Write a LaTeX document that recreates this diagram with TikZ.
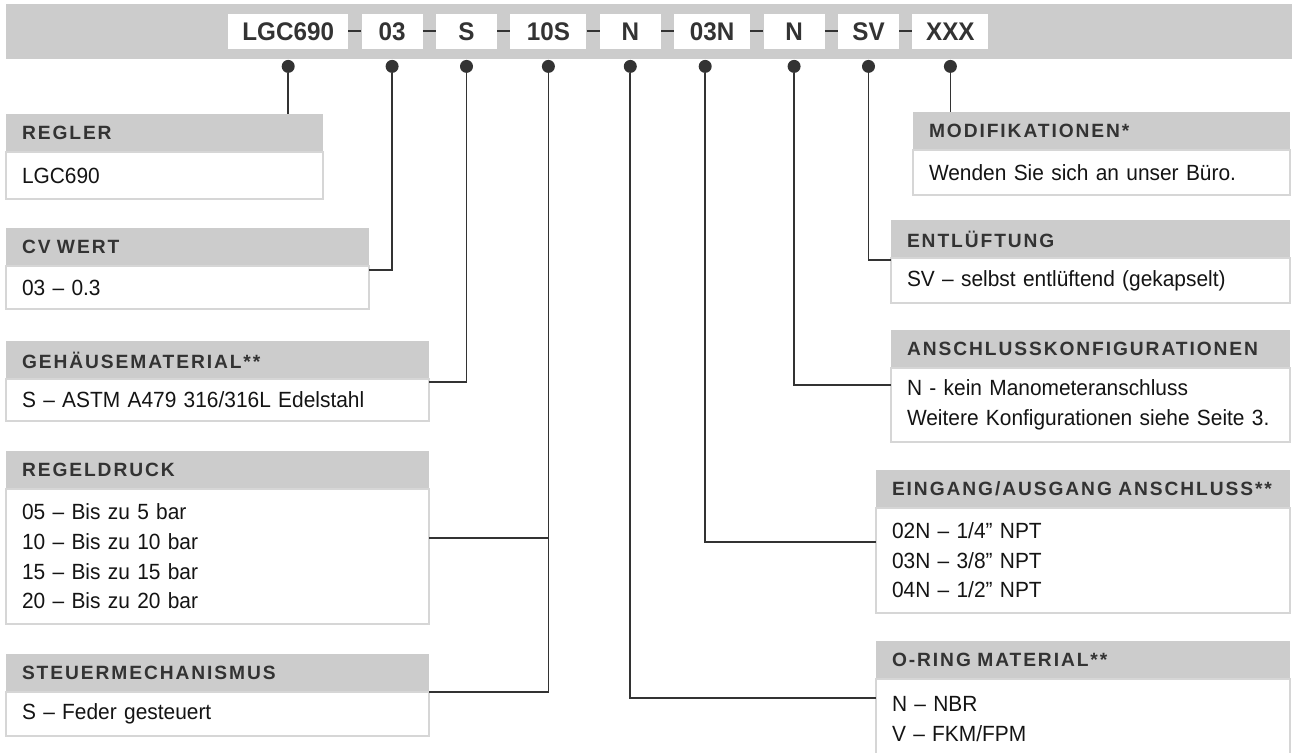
\documentclass[tikz,border=0pt]{standalone}
\usepackage{fontspec}
\setmainfont{Liberation Sans}[FakeStretch=0.95]
\newfontfamily\headfont[LetterSpace=10]{Liberation Sans}
\usetikzlibrary{positioning}

\definecolor{bargray}{HTML}{CCCCCC}
\definecolor{inkgray}{HTML}{333333}
\definecolor{rimgray}{HTML}{D6D6D6}

\begin{document}
\begin{tikzpicture}[
        x=1pt, y=-1pt,
        node distance=0pt,
        code/.style={
            rectangle,
            fill=white,
            text=inkgray,
            font=\fontsize{25.5}{30}\selectfont\bfseries,
            minimum height=35pt,
            inner sep=0pt
        },
        head/.style={
            rectangle,
            fill=bargray,
            text=inkgray,
            font=\headfont\fontsize{19.2}{22}\selectfont\bfseries,
            minimum height=38pt,
            inner xsep=16pt,
            inner ysep=0pt,
            outer sep=0pt,
            align=left,
            anchor=north west
        },
        body/.style={
            rectangle,
            draw=rimgray,
            line width=1.3pt,
            fill=white,
            text=black!92,
            font=\fontsize{22}{29.6}\selectfont,
            inner xsep=16pt,
            inner ysep=0pt,
            outer sep=0pt,
            align=left
        },
        dot/.style={
            circle,
            fill=inkgray,
            inner sep=0pt,
            minimum size=13pt
        },
        link/.style={
            draw=inkgray,
            line width=1.7pt
        },
        joiner/.style={
            draw=inkgray,
            line width=2pt
        }
    ]
        \useasboundingbox (0,0) rectangle (1292,752);

        % Code strip
        \fill [bargray] (6,4) rectangle (1292,59);
        \node [code, minimum width=120pt, anchor=west] (cLGC) at (228,31.5) {LGC690};
        \node [code, minimum width=61pt, right=13pt of cLGC] (cCv) {03};
        \node [code, minimum width=61pt, right=13pt of cCv] (cBody) {S};
        \node [code, minimum width=76pt, right=13pt of cBody] (cPress) {10S};
        \node [code, minimum width=61pt, right=13pt of cPress] (cRing) {N};
        \node [code, minimum width=76pt, right=13pt of cRing] (cPort) {03N};
        \node [code, minimum width=61pt, right=13pt of cPort] (cGauge) {N};
        \node [code, minimum width=61pt, right=13pt of cGauge] (cVent) {SV};
        \node [code, minimum width=76pt, right=13pt of cVent] (cMod) {XXX};

        \path [joiner] (cLGC) -- (cCv);
        \path [joiner] (cCv) -- (cBody);
        \path [joiner] (cBody) -- (cPress);
        \path [joiner] (cPress) -- (cRing);
        \path [joiner] (cRing) -- (cPort);
        \path [joiner] (cPort) -- (cGauge);
        \path [joiner] (cGauge) -- (cVent);
        \path [joiner] (cVent) -- (cMod);

        % Dots
        \node [dot, below=10.5pt of cLGC] (dLGC) {};
        \node [dot, below=10.5pt of cCv] (dCv) {};
        \node [dot, below=10.5pt of cBody] (dBody) {};
        \node [dot, below=10.5pt of cPress] (dPress) {};
        \node [dot, below=10.5pt of cRing] (dRing) {};
        \node [dot, below=10.5pt of cPort, xshift=-7pt] (dPort) {};
        \node [dot, below=10.5pt of cGauge] (dGauge) {};
        \node [dot, below=10.5pt of cVent] (dVent) {};
        \node [dot, below=10.5pt of cMod] (dMod) {};

        % Left boxes
        \node [head, text width=285pt] (regler) at (6,114) {REGLER};
        \node [body, below=of regler, text width=285pt, minimum height=47pt] (reglerb) {LGC690};

        \node [head, text width=331pt] (cvwert) at (6,228) {CV WERT};
        \node [body, below=of cvwert, text width=331pt, minimum height=43pt] (cvwertb) {03 – 0.3};

        \node [head, text width=391pt] (gehaeuse) at (6,341) {GEHÄUSEMATERIAL**};
        \node [body, below=of gehaeuse, text width=391pt, minimum height=42pt] (gehaeuseb) {S – ASTM A479 316/316L Edelstahl};

        \node [head, text width=391pt] (regeldruck) at (6,451) {REGELDRUCK};
        \node [body, below=of regeldruck, text width=391pt, minimum height=135pt] (regeldruckb) {05 – Bis zu 5 bar\\10 – Bis zu 10 bar\\15 – Bis zu 15 bar\\20 – Bis zu 20 bar};

        \node [head, text width=391pt] (steuer) at (6,654) {STEUERMECHANISMUS};
        \node [body, below=of steuer, text width=391pt, minimum height=44pt] (steuerb) {S – Feder gesteuert};

        % Right boxes
        \node [head, text width=345pt] (modif) at (913,112) {MODIFIKATIONEN*};
        \node [body, below=of modif, text width=345pt, minimum height=45pt] (modifb) {Wenden Sie sich an unser Büro.};

        \node [head, text width=367pt] (entl) at (891,220) {ENTLÜFTUNG};
        \node [body, below=of entl, text width=367pt, minimum height=45pt] (entlb) {SV – selbst entlüftend (gekapselt)};

        \node [head, text width=367pt] (ansch) at (891,330) {ANSCHLUSSKONFIGURATIONEN};
        \node [body, below=of ansch, text width=367pt, minimum height=74pt] (anschb) {N - kein Manometeranschluss\\Weitere Konfigurationen siehe Seite 3.};

        \node [head, text width=382pt] (eing) at (876,470) {EINGANG/AUSGANG ANSCHLUSS**};
        \node [body, below=of eing, text width=382pt, minimum height=105pt] (eingb) {02N – 1/4” NPT\\03N – 3/8” NPT\\04N – 1/2” NPT};

        \node [head, text width=382pt] (oring) at (876,641) {O-RING MATERIAL**};
        \node [body, below=of oring, text width=382pt, minimum height=80pt] (oringb) {N – NBR\\V – FKM/FPM};

        % Paths
        \coordinate (pressTap) at ([yshift=-49pt]regeldruckb.north east);
        \path [link] (dLGC) -- (dLGC |- regler.north);
        \path [link] (dCv) |- ([yshift=-4pt]cvwertb.north east);
        \path [link] (dBody) |- ([yshift=-3pt]gehaeuseb.north east);
        \path [link] (dPress) |- (steuer.south east);
        \path [link] (pressTap) -- (pressTap -| dPress);
        \path [link] (dRing) |- ([yshift=-19pt]oringb.north west);
        \path [link] (dPort) |- ([yshift=-34pt]eingb.north west);
        \path [link] (dGauge) |- ([yshift=-17pt]anschb.north west);
        \path [link] (dVent) |- ([yshift=-2pt]entlb.north west);
        \path [link] (dMod) -- (dMod |- modif.north);

    \end{tikzpicture}
\end{document}
